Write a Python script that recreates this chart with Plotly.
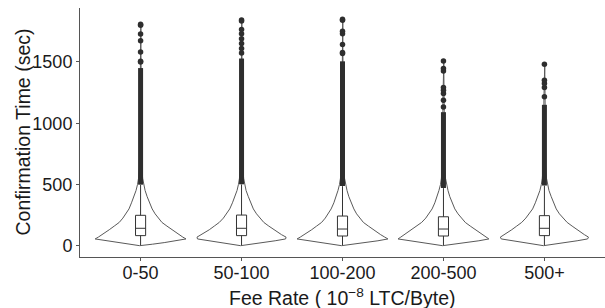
import plotly.graph_objects as go

# ---------------- data ----------------
categories = ["0-50", "50-100", "100-200", "200-500", "500+"]

# box statistics (sec)
q1 = [82, 82, 79, 79, 82]
median = [142, 142, 136, 136, 142]
q3 = [248, 250, 242, 236, 245]
lower_whisker = [0, 0, 0, 0, 0]
upper_whisker = [497, 500, 486, 470, 490]

# outliers: dense run (start, end) and sparse individual points
dense_start = [498, 501, 487, 471, 491]
dense_end = [1450, 1528, 1505, 1090, 1150]
sparse_outliers = [
    [1500, 1505, 1581, 1674, 1728, 1800, 1807],
    [1573, 1609, 1650, 1690, 1731, 1764, 1835, 1842],
    [1568, 1577, 1642, 1731, 1750, 1840, 1848],
    [1133, 1188, 1242, 1269, 1291, 1427, 1446, 1508],
    [1215, 1291, 1324, 1351, 1481],
]

# violin outline: value grid and relative density (half-width, 1 = widest)
violin_grid = [0, 12, 25, 40, 55, 70, 90, 110, 130, 160, 190, 225, 260, 300,
               350, 400, 450, 500, 550, 650, 800, 1000, 1200, 1400, 1600, 1800]
violin_density = [
    [0.02, 0.26, 0.52, 0.80, 1.00, 0.93, 0.84, 0.76, 0.69, 0.58, 0.47, 0.39, 0.32,
     0.255, 0.20, 0.145, 0.10, 0.067, 0.045, 0.027, 0.018, 0.013, 0.011, 0.009, 0.008, 0.007],
    [0.02, 0.22, 0.46, 0.74, 0.97, 0.98, 0.88, 0.79, 0.71, 0.60, 0.49, 0.40, 0.33,
     0.26, 0.20, 0.15, 0.10, 0.068, 0.046, 0.028, 0.018, 0.013, 0.011, 0.009, 0.008, 0.007],
    [0.02, 0.25, 0.50, 0.78, 1.00, 0.93, 0.84, 0.75, 0.68, 0.57, 0.46, 0.38, 0.31,
     0.25, 0.19, 0.14, 0.10, 0.066, 0.045, 0.027, 0.018, 0.013, 0.011, 0.009, 0.008, 0.007],
    [0.02, 0.25, 0.50, 0.78, 1.00, 0.94, 0.86, 0.78, 0.70, 0.59, 0.48, 0.39, 0.32,
     0.25, 0.19, 0.14, 0.10, 0.065, 0.045, 0.027, 0.018, 0.013, 0.011, 0.009, 0.008, 0.007],
    [0.02, 0.22, 0.45, 0.72, 0.95, 0.97, 0.88, 0.80, 0.72, 0.61, 0.50, 0.41, 0.33,
     0.26, 0.20, 0.15, 0.10, 0.068, 0.046, 0.028, 0.018, 0.013, 0.011, 0.009, 0.008, 0.007],
]

y_ticks = [0, 500, 1000, 1500]
x_title = "Fee Rate ( 10<sup>\u22128</sup> LTC/Byte)"
y_title = "Confirmation Time (sec)"

# ---------------- figure ----------------
VIOLIN_HALF = 0.45   # ggplot default violin width 0.9
BOX_WIDTH = 0.1
FONT = "Liberation Sans, Arial, Helvetica, sans-serif"
W, H = 605, 308
ML, MR, MT, MB = 80, 0, 8, 51
fig = go.Figure()

for i, cat in enumerate(categories):
    vmax = max(sparse_outliers[i] + [dense_end[i]])
    ys, ws = [], []
    for v, d in zip(violin_grid, violin_density[i]):
        if v < vmax:
            ys.append(v)
            ws.append(d)
    ys.append(vmax)
    ws.append(ws[-1] * 0.8)
    xl = [i - w * VIOLIN_HALF for w in ws]
    xr = [i + w * VIOLIN_HALF for w in ws]
    fig.add_trace(go.Scatter(
        x=xl + xr[::-1] + [xl[0]], y=ys + ys[::-1] + [ys[0]], mode="lines",
        line=dict(color="#595959", width=1),
        hoverinfo="skip", showlegend=False))

for i, cat in enumerate(categories):
    fig.add_trace(go.Box(
        x=[i], q1=[q1[i]], median=[median[i]], q3=[q3[i]],
        lowerfence=[lower_whisker[i]], upperfence=[upper_whisker[i]],
        orientation="v", width=BOX_WIDTH, whiskerwidth=0, boxpoints=False,
        fillcolor="white", line=dict(color="#333333", width=1),
        showlegend=False))
    # dense outlier run
    fig.add_trace(go.Scatter(
        x=[i, i], y=[dense_start[i], dense_end[i]], mode="lines",
        line=dict(color="#2e2e2e", width=5), showlegend=False, hoverinfo="skip"))
    fig.add_trace(go.Scatter(
        x=[i] * len(sparse_outliers[i]), y=sparse_outliers[i], mode="markers",
        marker=dict(color="#2e2e2e", size=5.5), showlegend=False))

ymax = max(max(s) for s in sparse_outliers)
ymin = min(lower_whisker)
pad = (ymax - ymin) * 0.05

plot_w = W - ML - MR
plot_h = H - MT - MB

fig.update_layout(
    width=W, height=H,
    margin=dict(l=ML, r=MR, t=MT, b=MB),
    paper_bgcolor="white", plot_bgcolor="white",
    font=dict(family=FONT, color="black"),
    boxmode="overlay",
    xaxis=dict(
        range=[-0.6, 4.6], tickvals=list(range(len(categories))), ticktext=categories,
        showline=True, linecolor="#555555", linewidth=1,
        ticks="outside", ticklen=3, tickcolor="#555555",
        showgrid=False, zeroline=False, automargin=False,
        tickfont=dict(size=18, color="#1a1a1a"), ticklabelstandoff=-4,
    ),
    yaxis=dict(
        range=[ymin - pad, ymax + pad], tickvals=y_ticks,
        showline=True, linecolor="#555555", linewidth=1,
        ticks="outside", ticklen=3, tickcolor="#555555",
        showgrid=False, zeroline=False, automargin=False,
        tickfont=dict(size=18, color="#1a1a1a"),
    ),
    annotations=[
        dict(text=x_title, xref="paper", yref="paper",
             x=0.5, y=(257 - 297) / plot_h,
             xanchor="center", yanchor="middle", showarrow=False,
             font=dict(size=19.5, color="#1a1a1a")),
        dict(text=y_title, xref="paper", yref="paper",
             x=(22 - ML) / plot_w, y=0.5, textangle=-90,
             xanchor="center", yanchor="middle", showarrow=False,
             font=dict(size=19.5, color="#1a1a1a")),
    ],
)

fig.write_html("out.html", config={"displayModeBar": False},
               post_script="document.body.style.margin='0';")
